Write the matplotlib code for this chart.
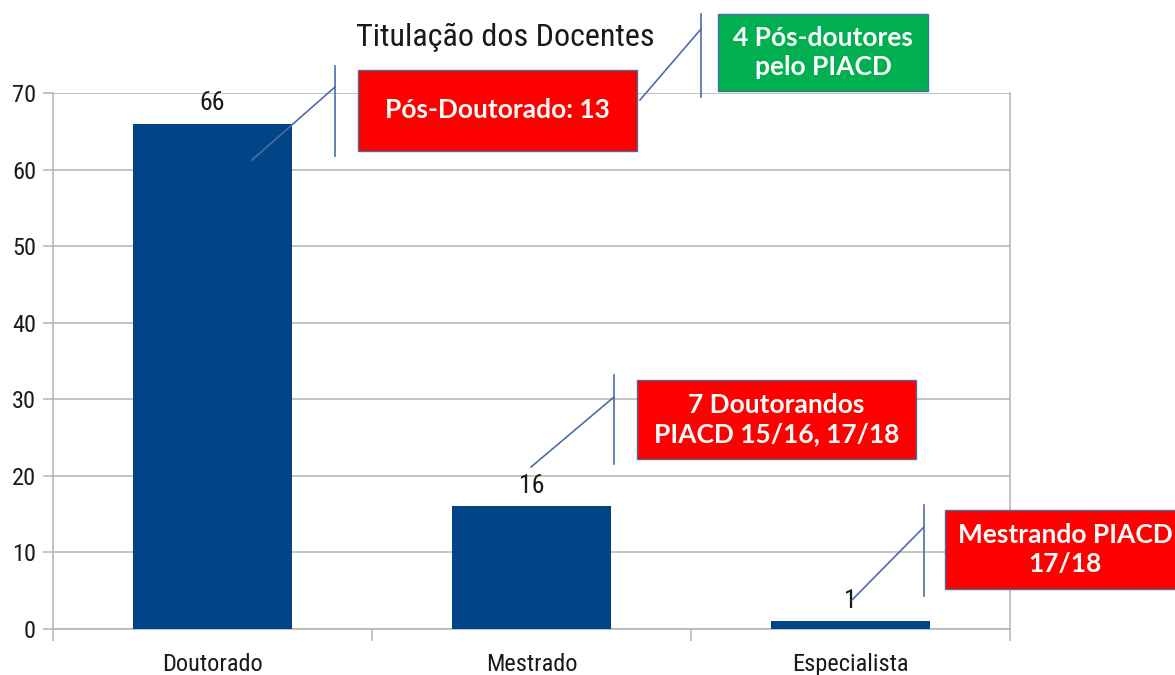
import numpy as np
import matplotlib.pyplot as plt
from matplotlib import font_manager
from matplotlib.patches import Rectangle
from matplotlib.lines import Line2D

# dados do grafico
categorias = ['Doutorado', 'Mestrado', 'Especialista']
docentes = [66, 16, 1]
yticks = [0, 10, 20, 30, 40, 50, 60, 70]

notas = ['Pós-Doutorado: 13',
         '4 Pós-doutores\npelo PIACD',
         '7 Doutorandos\nPIACD 15/16, 17/18',
         'Mestrando PIACD\n17/18']
cores_notas = ['#ff0000', '#00b050', '#ff0000', '#ff0000']

W, H = 1175, 675

# fonte estreita, se houver
nomes = {f.name for f in font_manager.fontManager.ttflist}
narrow = [n for n in ['Liberation Sans Narrow', 'Roboto Condensed', 'Open Sans Condensed',
                      'DejaVu Sans Condensed', 'Liberation Sans'] if n in nomes]
plt.rcParams['font.family'] = narrow[:1] + ['DejaVu Sans']
condensada = narrow[0] != 'Liberation Sans'
k = 1.1 if condensada else 1.0

fig = plt.figure(figsize=(W / 100, H / 100), dpi=100)
ax = fig.add_axes([53 / W, 1 - 629 / H, (1010 - 53) / W, (629 - 93) / H])

x = np.arange(len(categorias))
bars = ax.bar(x, docentes, width=0.5, color='#004586', zorder=3)
ax.bar_label(bars, labels=[str(v) for v in docentes], padding=6, fontsize=17 * k, color='#1a1a1a')

ax.set_xlim(-0.5, len(categorias) - 0.5)
ax.set_ylim(0, 70)
ax.set_yticks(yticks)
ax.set_xticks(x)
ax.set_xticklabels(categorias, fontsize=16 * k, color='#1a1a1a')
ax.set_xticks(np.arange(len(categorias) + 1) - 0.5, minor=True)
ax.tick_params(axis='x', which='major', length=0, pad=17)
ax.tick_params(axis='x', which='minor', length=8.6, width=1.1, color='#b3b3b3')
ax.tick_params(axis='y', length=7.2, width=1.1, color='#b3b3b3', labelsize=16 * k,
               labelcolor='#1a1a1a', pad=5)
ax.yaxis.grid(True, color='#b3b3b3', lw=1.1, zorder=0)
for s in ['left', 'bottom', 'right']:
    ax.spines[s].set_color('#b3b3b3')
    ax.spines[s].set_linewidth(1.1)
ax.spines['top'].set_visible(False)

fig.text(505 / W, 1 - 37 / H, 'Titulação dos Docentes', fontsize=21 * k,
         ha='center', va='center', color='#1a1a1a')


def px(xp, yp):
    return xp / W, 1 - yp / H


# caixas de chamada: caixa (x0, y0, x1, y1), linha vertical, diagonal
caixas = [(358, 70, 637, 151), (718, 14, 928, 91), (637, 380, 916, 459), (945, 510, 1185, 589)]
verticais = [(335, 66, 156), (701, 14, 97), (614, 375, 464), (924, 505, 596)]
diagonais = [((252, 160), (335, 87)), ((640, 100), (701, 29)),
             ((531, 467), (614, 397)), ((852, 600), (924, 527))]
linha_cor = '#4a6ea9'

for nota, cor, cx, vl, dg in zip(notas, cores_notas, caixas, verticais, diagonais):
    x0, y0, x1, y1 = cx
    fx0, fy1 = px(x0, y1)
    rect = Rectangle((fx0, fy1), (x1 - x0) / W, (y1 - y0) / H, transform=fig.transFigure,
                     facecolor=cor, edgecolor='#41719c', lw=1.0, zorder=5)
    fig.add_artist(rect)
    tx, ty = px((x0 + x1) / 2, (y0 + y1) / 2)
    fig.text(tx, ty, nota, ha='center', va='center', color='white', fontsize=19,
             fontweight='bold', family=['Lato', 'DejaVu Sans'], linespacing=1.25, zorder=6)
    vx, vy0, vy1 = vl
    a, b = px(vx, vy0), px(vx, vy1)
    fig.add_artist(Line2D([a[0], b[0]], [a[1], b[1]], transform=fig.transFigure,
                          color=linha_cor, lw=1.2, zorder=5))
    a, b = px(*dg[0]), px(*dg[1])
    fig.add_artist(Line2D([a[0], b[0]], [a[1], b[1]], transform=fig.transFigure,
                          color=linha_cor, lw=1.2, zorder=5))

fig.savefig('out.png', dpi=100)
